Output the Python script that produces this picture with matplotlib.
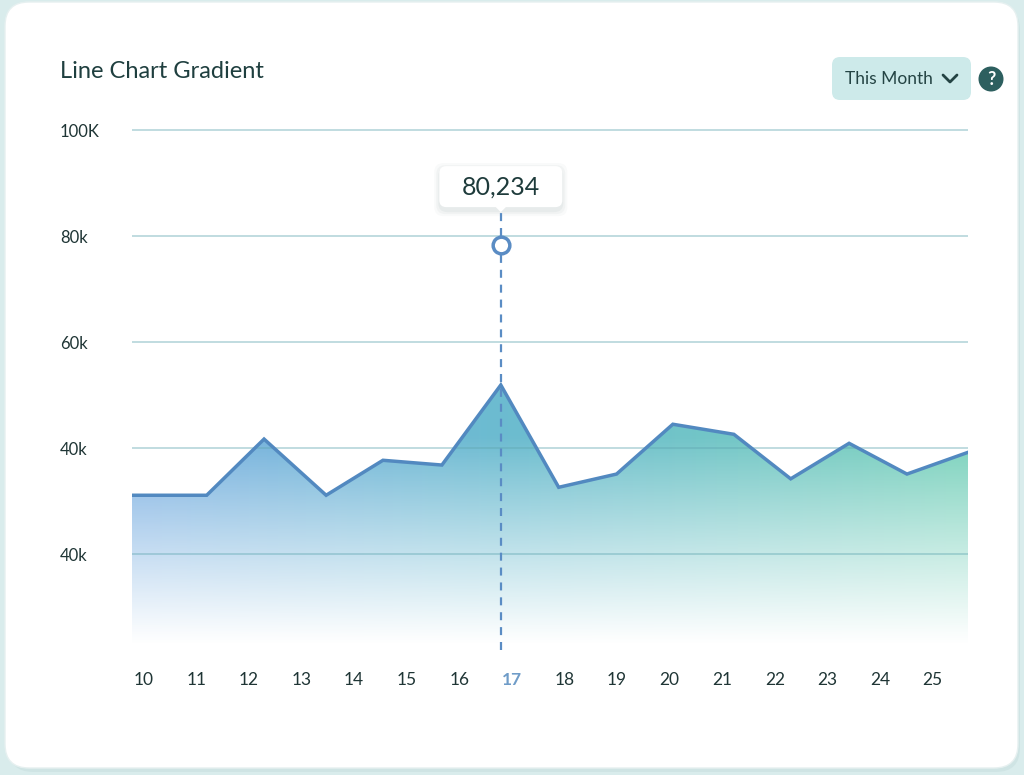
import numpy as np
import matplotlib
matplotlib.use("Agg")
import matplotlib.pyplot as plt
from matplotlib.patches import FancyBboxPatch, Circle, Polygon

plt.rcParams['font.family'] = ['Lato', 'DejaVu Sans']

# data (x in day units, y in thousands)
days = [9.78, 11.20, 12.29, 13.47, 14.55, 15.67, 16.79, 17.89,
        18.99, 20.06, 21.22, 22.30, 23.41, 24.51, 25.67]
values = [31.1, 31.1, 41.7, 31.1, 37.7, 36.8, 51.9, 32.6,
          35.1, 44.5, 42.6, 34.2, 40.9, 35.1, 39.2]
tick_days = list(range(10, 26))
tick_labels = [str(d) for d in tick_days]
y_ticks = [100, 80, 60, 40, 20]
y_labels = ["100K", "80k", "60k", "40k", "40k"]
hover_day = 16.79
hover_value = 78.3
hover_text = "80,234"
highlight_label = "17"

W, H = 1024, 775
fig = plt.figure(figsize=(W / 100, H / 100), dpi=100)
fig.patch.set_facecolor('#d9ecec')

# background layer in pixel coords
bg = fig.add_axes([0, 0, 1, 1], zorder=0)
bg.set_xlim(0, W)
bg.set_ylim(H, 0)
bg.axis('off')

bg.add_patch(FancyBboxPatch((9, 6), 1011, 766, boxstyle="round,pad=0,rounding_size=24",
                            fc='#c9e0e0', ec='none', alpha=0.6))
bg.add_patch(FancyBboxPatch((5, 2), 1013, 766, boxstyle="round,pad=0,rounding_size=24",
                            fc='white', ec='#e6f0f0', lw=1))

bg.text(60, 72, "Line Chart Gradient", fontsize=17, color='#1f3f3f',
        ha='left', va='center')

# dropdown + help icon
bg.add_patch(FancyBboxPatch((832, 57), 139, 43, boxstyle="round,pad=0,rounding_size=8",
                            fc='#cdeaea', ec='none'))
bg.text(845, 79, "This Month", fontsize=12.5, color='#244444', ha='left', va='center')
bg.plot([943, 950, 957], [75, 82, 75], color='#244444', lw=2.0,
        solid_capstyle='round', solid_joinstyle='round')
bg.add_patch(Circle((991, 79), 12.5, fc='#2d5f5f', ec='none'))
bg.text(991, 79.5, "?", fontsize=13, color='white', ha='center', va='center',
        fontweight='bold')

# chart axes
ax = fig.add_axes([132 / W, (H - 650) / H, (968 - 132) / W, (650 - 128) / H], zorder=2)
ax.patch.set_alpha(0)
ax.set_xlim(days[0], days[-1])
ax.set_ylim(1.9, 100.4)
for s in ax.spines.values():
    s.set_visible(False)

# gradient fill clipped by the area under the line
nx, ny = 400, 300
t = np.linspace(0, 1, nx)
c_left = np.array([122, 175, 226]) / 255
c_mid = np.array([108, 188, 208]) / 255
c_right = np.array([122, 210, 188]) / 255
cols = np.where((t < 0.45)[:, None],
                c_left + (c_mid - c_left) * (t / 0.45)[:, None],
                c_mid + (c_right - c_mid) * ((t - 0.45) / 0.55)[:, None])
ytop = max(values) + 1
yv = np.linspace(ytop, 1.9, ny)
alpha = np.clip((yv - 3) / 39, 0, 1) ** 1.05
img = np.zeros((ny, nx, 4))
img[:, :, :3] = cols[None, :, :]
img[:, :, 3] = alpha[:, None]
fill = ax.fill_between(days, values, 1.9, color='none', lw=0)
im = ax.imshow(img, extent=[days[0], days[-1], 1.9, ytop], aspect='auto',
               origin='upper', zorder=1)
path = fill.get_paths()[0]
im.set_clip_path(path, transform=ax.transData)

ax.set_yticks(y_ticks, y_labels)
ax.set_xticks(tick_days, tick_labels)
ax.tick_params(axis='y', length=0, pad=51.8, labelsize=12, labelcolor='#1f3535')
ax.tick_params(axis='x', length=0, pad=16, labelsize=12.5, labelcolor='#1f3535')
for lbl in ax.get_yticklabels():
    lbl.set_ha('left')
for lbl in ax.get_xticklabels():
    if lbl.get_text() == highlight_label:
        lbl.set_color('#6f9cc8')
        lbl.set_fontweight('bold')
ax.grid(axis='y', color='#5fa6b0', alpha=0.5, lw=1.1)
ax.grid(axis='x', visible=False)
ax.set_axisbelow(False)

ax.plot(days, values, color='#5289c0', lw=2.5, zorder=4, solid_joinstyle='miter')

# hover guide
ax.plot([hover_day, hover_day], [1.9, hover_value], color='#5a8cc4', lw=1.6,
        dashes=(3.6, 3.1), zorder=5, clip_on=False)
ax.plot(hover_day, hover_value, 'o', ms=12, mfc='white', mec='#5a8cc4', mew=2.5,
        zorder=6, clip_on=False)

# tooltip layer in pixel coords
top = fig.add_axes([0, 0, 1, 1], zorder=3)
top.set_xlim(0, W)
top.set_ylim(H, 0)
top.axis('off')
hx, hy = ax.transData.transform((hover_day, hover_value))
hy = H - hy
box_w, box_h = 123, 41
box_bottom = hy - 38
top.plot([hx, hx], [hy - 9, box_bottom], color='#5a8cc4', lw=1.6, dashes=(3.6, 3.1))
for k, a in enumerate([0.05, 0.04, 0.03]):
    g = 2 + 2 * k
    top.add_patch(FancyBboxPatch((hx - box_w / 2 - g + 1, box_bottom - box_h - g + 3),
                                 box_w + 2 * g - 2, box_h + 2 * g,
                                 boxstyle="round,pad=0,rounding_size=9",
                                 fc='#406060', ec='none', alpha=a))
top.add_patch(FancyBboxPatch((hx - box_w / 2, box_bottom - box_h), box_w, box_h,
                             boxstyle="round,pad=0,rounding_size=7", fc='white', ec='none'))
top.add_patch(Polygon([(hx - 6, box_bottom - 1), (hx + 6, box_bottom - 1), (hx, box_bottom + 5)],
                      closed=True, fc='white', ec='none'))
top.text(hx, box_bottom - box_h / 2, hover_text, fontsize=18, color='#1e3b3b',
         ha='center', va='center')

fig.savefig('out.png', dpi=100, facecolor=fig.get_facecolor())
